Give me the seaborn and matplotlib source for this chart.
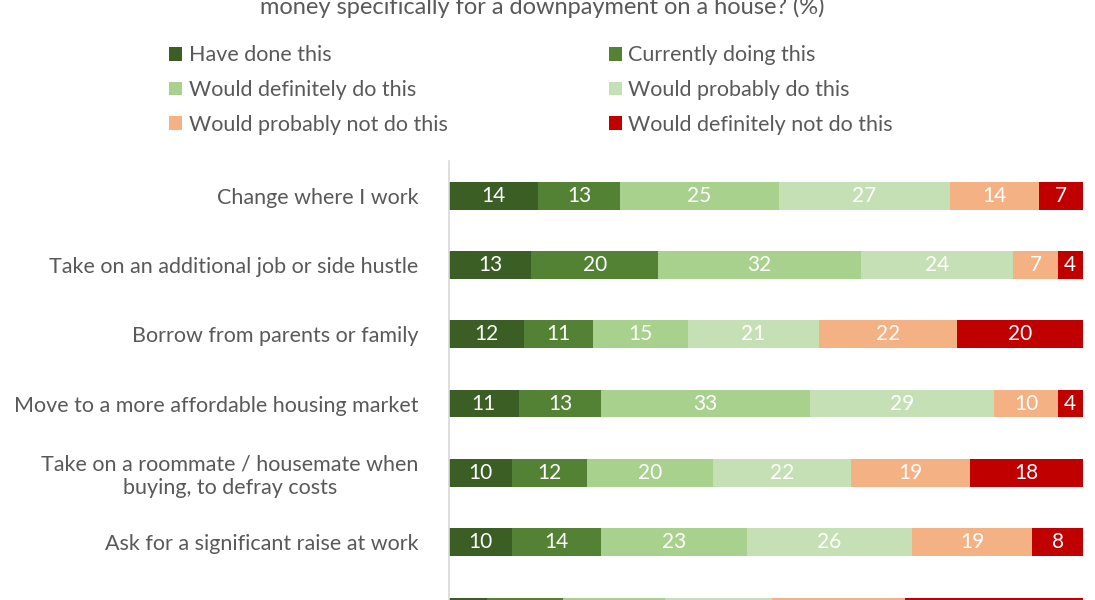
import numpy as np
import pandas as pd
import seaborn as sns
import matplotlib.pyplot as plt
from matplotlib.patches import Patch

# Survey categories (last one is cut off at the bottom of the picture)
categories = [
    'Change where I work',
    'Take on an additional job or side hustle',
    'Borrow from parents or family',
    'Move to a more affordable housing market',
    'Take on a roommate / housemate when\nbuying, to defray costs',
    'Ask for a significant raise at work',
    '',
]

series_names = [
    'Have done this', 'Currently doing this', 'Would definitely do this',
    'Would probably do this', 'Would probably not do this', 'Would definitely not do this',
]

have_done = [14, 13, 12, 11, 10, 10, 6]
currently_doing = [13, 20, 11, 13, 12, 14, 12]
def_do = [25, 32, 15, 33, 20, 23, 16]
prob_do = [27, 24, 21, 29, 22, 26, 17]
prob_not = [14, 7, 22, 10, 19, 19, 21]
def_not = [7, 4, 20, 4, 18, 8, 28]

colors = ['#3b5e24', '#548235', '#a9d18e', '#c5e0b4', '#f4b183', '#c00000']
text_color = '#595959'

sns.set_style('white')
plt.rcParams['font.family'] = ['Lato', 'DejaVu Sans']

values = np.array([have_done, currently_doing, def_do, prob_do, prob_not, def_not], dtype=float)
# 100% stacked: normalise each row to its total
pct = values / values.sum(axis=0) * 100
cum = pct.cumsum(axis=0)

df = pd.DataFrame({'category': categories})
for i, name in enumerate(series_names):
    df[name] = cum[i]

fig = plt.figure(figsize=(10.95, 6), dpi=100)
ax = fig.add_axes([449 / 1095, -46 / 600, 634 / 1095, 485 / 600])

# draw cumulative bars from the right so each segment shows
for i in range(len(series_names) - 1, -1, -1):
    sns.barplot(data=df, x=series_names[i], y='category', orient='h', color=colors[i],
                saturation=1, width=0.4, ax=ax, order=categories, linewidth=0)

# value labels (the last row sits below the visible area)
for i in range(len(series_names)):
    for j in range(len(categories) - 1):
        mid = cum[i][j] - pct[i][j] / 2
        ax.text(mid, j, f'{int(values[i][j])}', ha='center', va='center',
                color='white', fontsize=15)

ax.set_xlim(0, 100)
ax.set_ylim(len(categories) - 0.5, -0.5)
ax.set_xlabel('')
ax.set_ylabel('')
ax.set_xticks([])
ax.tick_params(axis='y', length=0, pad=22, labelsize=15.5, labelcolor=text_color)
for lab in ax.get_yticklabels():
    lab.set_multialignment('center')
for s in ['top', 'right', 'bottom']:
    ax.spines[s].set_visible(False)
ax.spines['left'].set_color('#d9d9d9')
ax.spines['left'].set_linewidth(1.2)

# legend, filled row by row
handles = [Patch(facecolor=c, edgecolor='none', label=n) for c, n in zip(colors, series_names)]
order = [0, 2, 4, 1, 3, 5]
fig.legend([handles[k] for k in order], [series_names[k] for k in order],
           ncol=2, loc='upper left', bbox_to_anchor=(150 / 1095, 1 - 26 / 600),
           frameon=False, fontsize=15.5, labelcolor=text_color,
           handlelength=0.6, handleheight=0.6, handletextpad=0.3,
           columnspacing=7.5, labelspacing=0.68)

# title, top part cropped off in the picture
fig.text(542 / 1095, 1 - 14 / 600,
         'money specifically for a downpayment on a house? (%)',
         ha='center', va='baseline', color=text_color, fontsize=17,
         transform=fig.transFigure)

fig.savefig('out.png', dpi=100)
